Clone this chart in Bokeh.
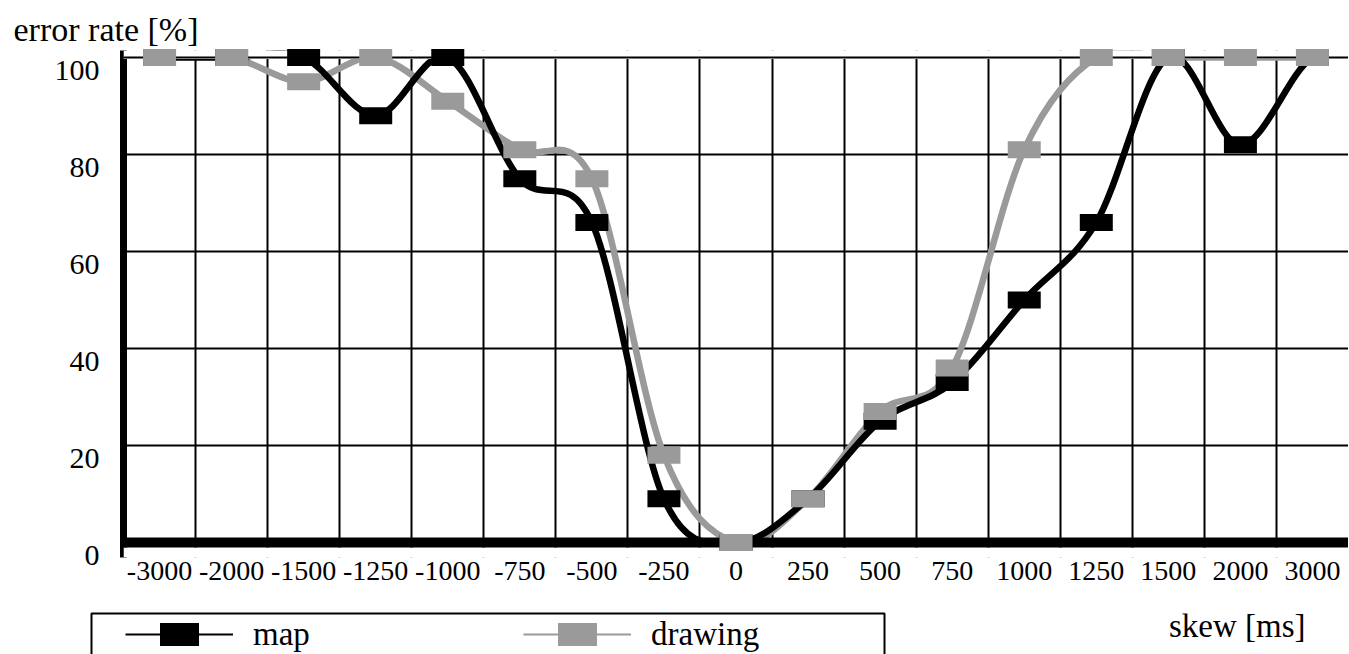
import numpy as np
from bokeh.plotting import figure
from bokeh.models import (FixedTicker, Legend, LegendItem, Span, BoxAnnotation,
                          Label, ColumnDataSource)
from bokeh.embed import file_html
from bokeh.resources import INLINE

# ---- data ----
categories = ["-3000", "-2000", "-1500", "-1250", "-1000", "-750", "-500", "-250",
              "0", "250", "500", "750", "1000", "1250", "1500", "2000", "3000"]
map_values = [100, 100, 100, 88, 100, 75, 66, 9, 0, 9, 25, 33, 50, 66, 100, 82, 100]
drawing_values = [100, 100, 95, 100, 91, 81, 75, 18, 0, 9, 27, 36, 81, 100, 100, 100, 100]
y_ticks = [0, 20, 40, 60, 80, 100]
y_labels = ["0", "20", "40", "60", "80", "100"]

FONT = "Liberation Serif"
BLACK = "#000000"
GRAY = "#9a9a9a"
W = 1348
H_MAIN = 600
H_LEG = 54


def smooth_segments(vals):
    """Cubic Bezier segments (Catmull-Rom style smoothing) through the points."""
    n = len(vals)
    d = dict(x0=[], y0=[], x1=[], y1=[], cx0=[], cy0=[], cx1=[], cy1=[])
    for i in range(n - 1):
        p0 = vals[i - 1] if i > 0 else vals[i]
        p3 = vals[i + 2] if i + 2 < n else vals[i + 1]
        m1 = (vals[i + 1] - p0) / 2.0
        m2 = (p3 - vals[i]) / 2.0
        d["x0"].append(i); d["y0"].append(vals[i])
        d["x1"].append(i + 1); d["y1"].append(vals[i + 1])
        d["cx0"].append(i + 1 / 3); d["cy0"].append(vals[i] + m1 / 3)
        d["cx1"].append(i + 2 / 3); d["cy1"].append(vals[i + 1] - m2 / 3)
    return ColumnDataSource(d)


idx = list(range(len(categories)))

p = figure(width=W, height=H_MAIN, x_range=(-0.5, len(categories) - 0.5),
           y_range=(-3.09, 101.44), output_backend="svg", toolbar_location=None,
           min_border_left=123, min_border_right=0, min_border_top=50,
           min_border_bottom=H_MAIN - 557)
p.outline_line_color = None

# grids (cell borders between categories)
p.xgrid.ticker = FixedTicker(ticks=[i - 0.5 for i in range(len(categories) + 1)])
p.xgrid.grid_line_color = BLACK
p.xgrid.grid_line_width = 2
p.ygrid.ticker = FixedTicker(ticks=y_ticks)
p.ygrid.grid_line_color = BLACK
p.ygrid.grid_line_width = 2

# x axis
p.xaxis.ticker = FixedTicker(ticks=idx)
p.xaxis.major_label_overrides = {i: c for i, c in enumerate(categories)}
p.xaxis.axis_line_color = None
p.xaxis.major_tick_line_color = None
p.xaxis.minor_tick_line_color = None
p.xaxis.major_label_standoff = -2
p.xaxis.major_label_text_font = FONT
p.xaxis.major_label_text_font_size = "28px"
p.xaxis.major_label_text_color = BLACK

# y axis: labels sit slightly below their grid lines, as in the original
LABEL_SHIFT = 2.6
p.yaxis.ticker = FixedTicker(ticks=[t - LABEL_SHIFT for t in y_ticks])
p.yaxis.major_label_overrides = {t - LABEL_SHIFT: s for t, s in zip(y_ticks, y_labels)}
p.yaxis.axis_line_color = BLACK
p.yaxis.axis_line_width = 7
p.yaxis.major_tick_line_color = None
p.yaxis.minor_tick_line_color = None
p.yaxis.major_label_standoff = 18
p.yaxis.major_label_text_font = FONT
p.yaxis.major_label_text_font_size = "30px"
p.yaxis.major_label_text_color = BLACK

# title
p.title.text = "error rate [%]"
p.title.align = "left"
p.title.vertical_align = "top"
p.title.offset = -110
p.title.standoff = 2
p.title.text_font = FONT
p.title.text_font_size = "34px"
p.title.text_font_style = "normal"
p.title.text_color = BLACK

# curves
gray_curve = p.bezier(x0="x0", y0="y0", x1="x1", y1="y1", cx0="cx0", cy0="cy0",
                      cx1="cx1", cy1="cy1", source=smooth_segments(drawing_values),
                      line_color=GRAY, line_width=6.5, line_cap="round")
black_curve = p.bezier(x0="x0", y0="y0", x1="x1", y1="y1", cx0="cx0", cy0="cy0",
                       cx1="cx1", cy1="cy1", source=smooth_segments(map_values),
                       line_color=BLACK, line_width=6.5, line_cap="round")

# clip above 100 and below the zero line, redraw the top grid line, thick zero line
p.add_layout(BoxAnnotation(bottom=99.7, fill_color="white", fill_alpha=1.0,
                           line_color=None, level="annotation"))
p.add_layout(BoxAnnotation(top=-1.03, fill_color="white", fill_alpha=1.0,
                           line_color=None, level="annotation"))
p.add_layout(Span(location=100, dimension="width", line_color=BLACK, line_width=2,
                  level="annotation"))
p.add_layout(Span(location=0, dimension="width", line_color=BLACK, line_width=10,
                  level="annotation"))

# markers
black_marks = p.rect(x=idx, y=map_values, width=33, height=17, width_units="screen",
                     height_units="screen", fill_color=BLACK, line_color=None,
                     level="overlay")
gray_marks = p.rect(x=idx, y=drawing_values, width=33, height=17, width_units="screen",
                    height_units="screen", fill_color=GRAY, line_color=None,
                    level="overlay")

# ---- legend strip below the chart ----
q = figure(width=W, height=H_LEG, x_range=(0, W), y_range=(0, H_LEG),
           output_backend="svg", toolbar_location=None, x_axis_type=None,
           y_axis_type=None, min_border=0)
q.outline_line_color = None
q.xgrid.visible = False
q.ygrid.visible = False

q.add_layout(BoxAnnotation(left=91, right=884, top=41, bottom=-10,
                           fill_color=None, fill_alpha=0, line_color=BLACK,
                           line_alpha=1.0, line_width=2))

nan = np.array([np.nan])
leg_black_line = q.line(x=nan, y=nan, line_color=BLACK, line_width=2)
leg_black_sq = q.scatter(x=nan, y=nan, marker="dash", line_color=BLACK, line_width=23,
                         line_cap="square")
leg_gray_line = q.line(x=nan, y=nan, line_color=GRAY, line_width=2)
leg_gray_sq = q.scatter(x=nan, y=nan, marker="dash", line_color=GRAY, line_width=23,
                        line_cap="square")

legend = Legend(items=[
    LegendItem(label="map", renderers=[leg_black_line, leg_black_sq]),
    LegendItem(label="drawing", renderers=[leg_gray_line, leg_gray_sq]),
], location=(125, 0), orientation="horizontal")
legend.glyph_width = 108
legend.glyph_height = 40
legend.label_standoff = 20
legend.label_width = 200
legend.spacing = 70
legend.padding = 0
legend.margin = 0
legend.border_line_color = None
legend.background_fill_alpha = 0
legend.label_text_font = FONT
legend.label_text_font_size = "33px"
legend.label_text_color = BLACK
q.add_layout(legend, "center")

q.add_layout(Label(x=1305, y=29, text="skew [ms]", text_align="right",
                   text_baseline="middle", text_font=FONT, text_font_size="33px",
                   text_color=BLACK))

open("out.html", "w").write(file_html([p, q], INLINE))
